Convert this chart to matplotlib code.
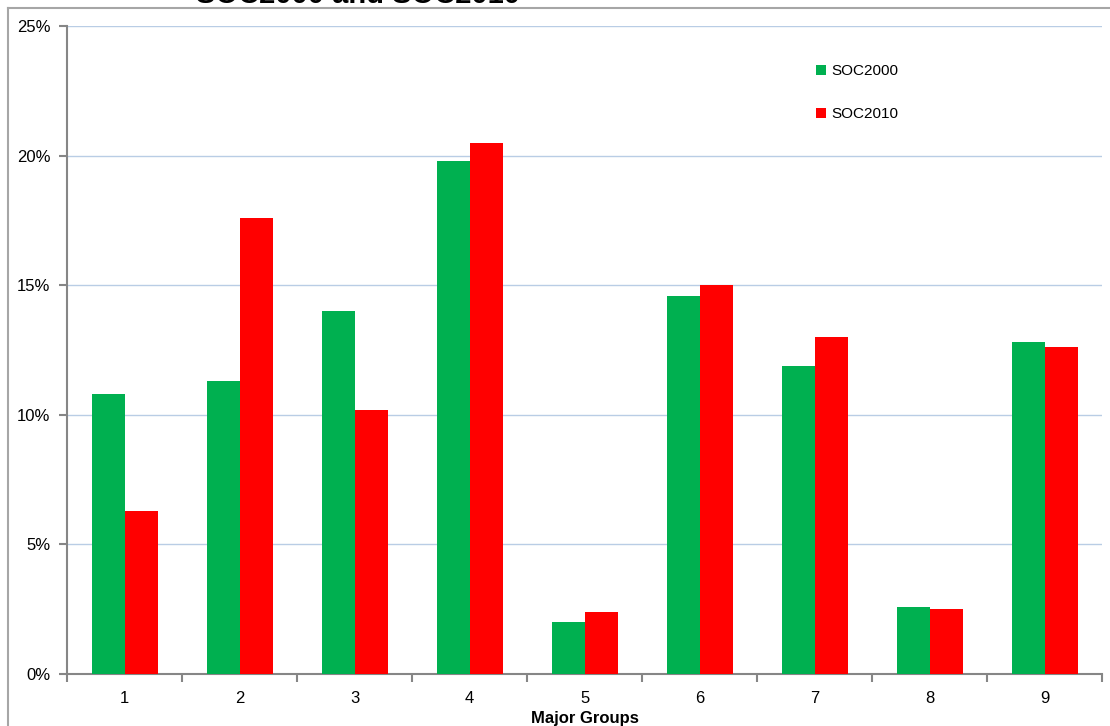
import numpy as np
import matplotlib.pyplot as plt
from matplotlib.lines import Line2D
from matplotlib.ticker import FuncFormatter, MultipleLocator

groups = ["1", "2", "3", "4", "5", "6", "7", "8", "9"]
soc2000 = [10.8, 11.3, 14.0, 19.8, 2.0, 14.6, 11.9, 2.6, 12.8]
soc2010 = [6.3, 17.6, 10.2, 20.5, 2.4, 15.0, 13.0, 2.5, 12.6]

plt.rcParams['font.family'] = ['Liberation Sans', 'DejaVu Sans']

fig = plt.figure(figsize=(11.1, 7.26), dpi=100)
ax = fig.add_axes([0.0604, 0.0716, 0.9324, 0.8926])

x = np.arange(len(groups))
w = 0.287
ax.bar(x - w / 2, soc2000, w, color='#00B050', label='SOC2000', zorder=3)
ax.bar(x + w / 2, soc2010, w, color='#FF0000', label='SOC2010', zorder=3)

ax.set_xlim(-0.5, len(groups) - 0.5)
ax.set_ylim(0, 25)
ax.yaxis.set_major_locator(MultipleLocator(5))
ax.yaxis.set_major_formatter(FuncFormatter(lambda v, _: f"{v:.0f}%"))
ax.grid(axis='y', color='#b9cde5', linewidth=1, zorder=0)

# group labels sit between the boundary ticks
ax.set_xticks(x)
ax.set_xticklabels(groups)
ax.set_xticks(np.arange(-0.5, len(groups)), minor=True)
ax.tick_params(axis='x', which='major', length=0, pad=12, labelsize=12)
ax.tick_params(axis='x', which='minor', length=6, color='#868686', width=1.5)
ax.tick_params(axis='y', length=6, color='#868686', width=1.5, labelsize=12, pad=6)

for side in ['top', 'right']:
    ax.spines[side].set_visible(False)
for side in ['left', 'bottom']:
    ax.spines[side].set_color('#868686')
    ax.spines[side].set_linewidth(1.5)

ax.set_xlabel("Major Groups", fontsize=12, fontweight='bold', labelpad=4)

ax.legend(loc='upper left', bbox_to_anchor=(0.71, 0.962), frameon=False,
          fontsize=11, handlelength=0.7, handleheight=0.7, handletextpad=0.3,
          labelspacing=1.9)

# outer chart border
fig.add_artist(Line2D([8 / 1110, 1], [1 - 8 / 726, 1 - 8 / 726],
                      transform=fig.transFigure, color='#a6a6a6', lw=1.5))
fig.add_artist(Line2D([8 / 1110, 8 / 1110], [0, 1 - 8 / 726],
                      transform=fig.transFigure, color='#a6a6a6', lw=1.5))

fig.text(358 / 1110, 1 - 3 / 726, "SOC2000 and SOC2010", ha='center', va='baseline',
         fontsize=21, fontweight='bold')

fig.savefig("out.png", dpi=100)
